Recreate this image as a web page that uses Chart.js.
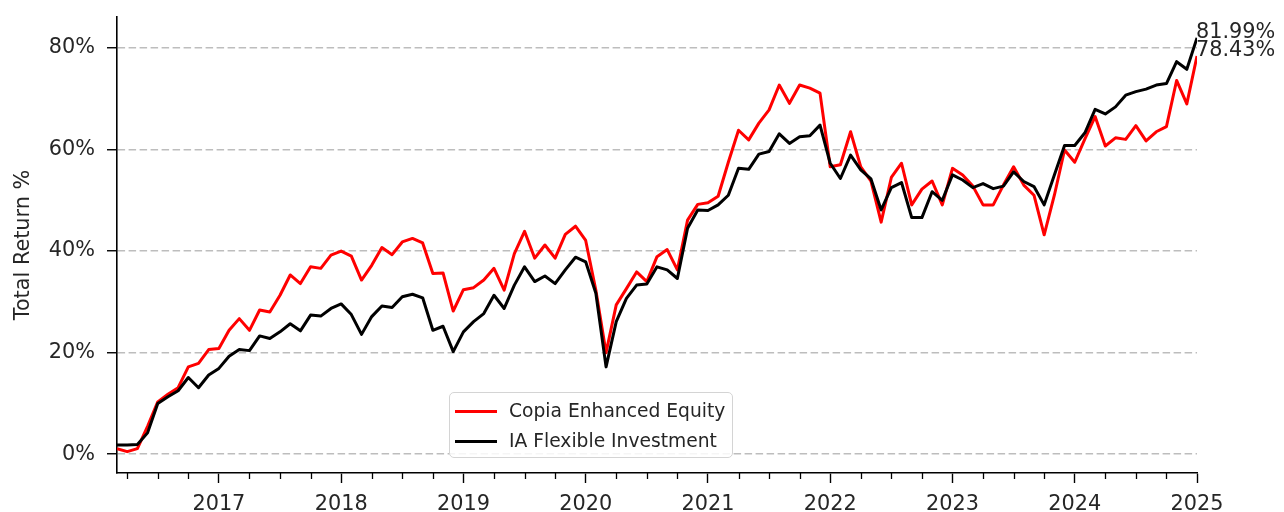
<!DOCTYPE html>
<html>
<head>
<meta charset="utf-8">
<title>Total Return</title>
<script src="https://cdn.jsdelivr.net/npm/chart.js@4"></script>
<style>
    html, body { margin: 0; padding: 0; background: #fff; }
    #wrap { position: relative; width: 1284px; height: 512px; }
    #legend {
        position: absolute; left: 449px; top: 392px; width: 284px; height: 66px;
        box-sizing: border-box; border: 1.5px solid #d4d4d4; border-radius: 5px;
        background: rgba(255, 255, 255, 0.85);
        font-family: "DejaVu Sans", sans-serif; font-size: 18.7px; color: #262626;
    }
    .item { position: absolute; left: 5px; height: 22px; line-height: 22px; display: flex; align-items: center; white-space: nowrap; }
    .swatch { width: 42px; height: 0; border-top: 3px solid; margin-right: 12px; }
</style>
</head>
<body>
<div id="wrap">
    <canvas id="returnChart" width="1284" height="512"></canvas>
    <div id="legend">
        <div class="item" style="top:7px"><span class="swatch" style="border-color:#ff0000"></span>Copia Enhanced Equity</div>
        <div class="item" style="top:37px"><span class="swatch" style="border-color:#000000"></span>IA Flexible Investment</div>
    </div>
</div>
<script>
/* ========================================
   Total return chart, monthly, Feb 2016 - Dec 2024
   ======================================== */

// month-end categories, Feb 2016 .. Dec 2024
const startYear = 2016;
const startMonth = 2;
const monthCount = 107;
const months = [];
for (let i = 0; i < monthCount; i++) {
    const m = startMonth - 1 + i;
    months.push({ year: startYear + Math.floor(m / 12), month: (m % 12) + 1 });
}
// position of each month end on a decimal-year axis
const monthX = months.map(d => d.year + d.month / 12);

const copiaReturns = [
    1.1, 0.5, 1.1, 5.5, 10.3, 11.8, 13.1, 17.2, 17.9, 20.6, 20.8,
    24.4, 26.7, 24.4, 28.4, 28.0, 31.3, 35.3, 33.6, 36.9, 36.6, 39.2, 40.0,
    39.0, 34.3, 37.2, 40.7, 39.3, 41.8, 42.5, 41.6, 35.6, 35.7, 28.2, 32.4,
    32.8, 34.3, 36.6, 32.3, 39.5, 43.9, 38.6, 41.2, 38.6, 43.3, 44.9, 42.1,
    32.3, 20.0, 29.4, 32.6, 35.9, 34.0, 38.9, 40.3, 36.3, 46.1, 49.2, 49.5,
    50.8, 57.5, 63.8, 61.9, 65.2, 67.8, 72.7, 69.1, 72.7, 72.1, 71.1, 56.6,
    57.0, 63.5, 56.6, 53.8, 45.7, 54.5, 57.3, 49.1, 52.2, 53.8, 49.1, 56.3,
    55.0, 52.8, 49.1, 49.1, 53.0, 56.6, 53.0, 51.0, 43.2, 51.0, 59.9, 57.5,
    62.1, 66.5, 60.7, 62.3, 62.0, 64.7, 61.7, 63.5, 64.5, 73.6, 69.0, 78.43
];

const iaFlexReturns = [
    1.8, 1.8, 1.9, 4.2, 10.0, 11.3, 12.5, 15.1, 13.1, 15.6, 16.9,
    19.3, 20.6, 20.4, 23.3, 22.8, 24.1, 25.7, 24.3, 27.4, 27.2, 28.7, 29.6,
    27.5, 23.6, 27.1, 29.2, 28.9, 31.0, 31.5, 30.8, 24.4, 25.2, 20.2, 24.1,
    26.1, 27.7, 31.3, 28.7, 33.3, 36.9, 34.0, 35.1, 33.6, 36.3, 38.8, 37.9,
    31.7, 17.2, 26.1, 30.7, 33.3, 33.5, 36.9, 36.3, 34.6, 44.5, 48.1, 48.0,
    49.1, 51.0, 56.3, 56.1, 59.1, 59.6, 63.1, 61.2, 62.5, 62.7, 64.8, 57.3,
    54.3, 58.9, 56.0, 54.2, 48.1, 52.5, 53.5, 46.6, 46.6, 51.7, 50.0, 55.0,
    54.0, 52.5, 53.3, 52.3, 52.8, 55.6, 53.7, 52.7, 49.1, 55.0, 60.8, 60.8,
    63.3, 67.9, 67.0, 68.4, 70.7, 71.4, 71.9, 72.7, 73.0, 77.3, 75.8, 81.99
];

const yearTicks = [2017, 2018, 2019, 2020, 2021, 2022, 2023, 2024, 2025];
const quarterTicks = [];
for (let y = 2016; y < 2025; y++) {
    [0.25, 0.5, 0.75].forEach(q => quarterTicks.push(y + q));
}
const yTicks = [0, 20, 40, 60, 80];

const FONT = '"DejaVu Sans", sans-serif';
const TEXT = '#262626';

// minor (quarter) ticks on the date axis + end-value labels
const extrasPlugin = {
    id: 'extras',
    afterDraw(chart) {
        const ctx = chart.ctx;
        const xs = chart.scales.x;
        const area = chart.chartArea;
        ctx.save();
        ctx.strokeStyle = '#000';
        ctx.lineWidth = 1.3;
        quarterTicks.forEach(q => {
            if (q < xs.min || q > xs.max) return;
            const px = Math.round(xs.getPixelForValue(q)) + 0.5;
            ctx.beginPath();
            ctx.moveTo(px, area.bottom);
            ctx.lineTo(px, area.bottom + 6);
            ctx.stroke();
        });

        ctx.font = '20.8px ' + FONT;
        ctx.fillStyle = TEXT;
        ctx.textAlign = 'left';
        ctx.textBaseline = 'alphabetic';
        chart.data.datasets.forEach((ds, i) => {
            const meta = chart.getDatasetMeta(i);
            const last = meta.data[meta.data.length - 1];
            const v = ds.data[ds.data.length - 1].y;
            ctx.fillText(v.toFixed(2) + '%', last.x - 1, last.y);
        });
        ctx.restore();
    }
};

new Chart(document.getElementById('returnChart'), {
    type: 'line',
    data: {
        datasets: [
            {
                label: 'Copia Enhanced Equity',
                data: monthX.map((x, i) => ({ x: x, y: copiaReturns[i] })),
                borderColor: '#ff0000',
                order: 2
            },
            {
                label: 'IA Flexible Investment',
                data: monthX.map((x, i) => ({ x: x, y: iaFlexReturns[i] })),
                borderColor: '#000000',
                order: 1
            }
        ]
    },
    options: {
        responsive: false,
        animation: false,
        events: [],
        layout: { padding: { top: 17, right: 87, left: 0, bottom: 0 } },
        elements: {
            point: { radius: 0 },
            line: { borderWidth: 3, tension: 0, borderJoinStyle: 'round', fill: false }
        },
        plugins: {
            legend: { display: false },
            tooltip: { enabled: false }
        },
        scales: {
            x: {
                type: 'linear',
                min: monthX[0],
                max: monthX[monthX.length - 1],
                afterBuildTicks: s => { s.ticks = yearTicks.map(v => ({ value: v })); },
                afterFit: s => {
                    s.height = 39;
                    s.paddingLeft = 0;
                    s.paddingRight = 0;
                },
                ticks: {
                    callback: v => String(v),
                    font: { family: FONT, size: 20.8 },
                    color: TEXT,
                    padding: 9,
                    maxRotation: 0,
                    autoSkip: false
                },
                grid: { drawOnChartArea: false, drawTicks: true, tickLength: 10, tickColor: '#000', tickWidth: 1.4 },
                border: { color: '#000', width: 1.6 }
            },
            y: {
                min: -3.7,
                max: 86.1,
                afterBuildTicks: s => { s.ticks = yTicks.map(v => ({ value: v })); },
                afterFit: s => {
                    s.width = 117;
                    s.paddingTop = 0;
                    s.paddingBottom = 0;
                },
                ticks: {
                    callback: v => v + '%',
                    font: { family: FONT, size: 20.8 },
                    color: TEXT,
                    padding: 12
                },
                title: {
                    display: true,
                    text: 'Total Return %',
                    font: { family: FONT, size: 20.8 },
                    color: TEXT,
                    padding: { top: 11, bottom: 0 }
                },
                grid: { color: '#bdbdbd', lineWidth: 1.5, tickLength: 10, tickColor: '#000', tickWidth: 1.4 },
                border: { color: '#000', width: 1.6, dash: [7.5, 3.5] }
            }
        }
    },
    plugins: [extrasPlugin]
});
</script>
</body>
</html>
